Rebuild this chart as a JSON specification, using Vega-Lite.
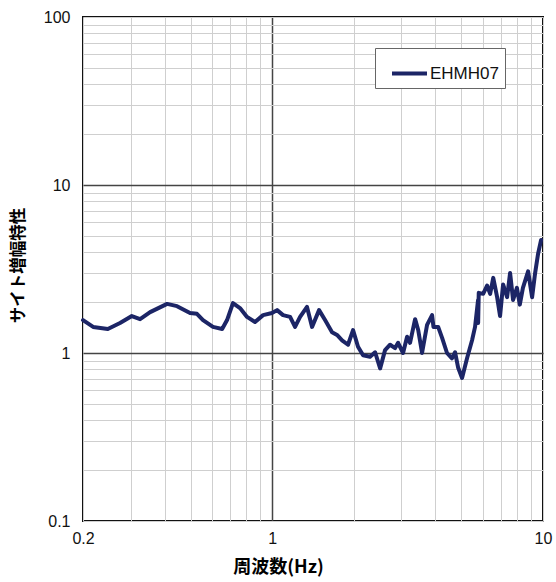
{
  "$schema": "https://vega.github.io/schema/vega-lite/v6.json",
  "autosize": "none",
  "width": 460,
  "height": 504,
  "padding": {"left": 83, "top": 17, "right": 13, "bottom": 61},
  "background": "white",
  "config": {
    "view": {"stroke": "#111", "strokeWidth": 2},
    "font": "Liberation Sans"
  },
  "data": {
    "values": [
      {"f": 0.200, "v": 1.57, "s": "EHMH07"},
      {"f": 0.218, "v": 1.43, "s": "EHMH07"},
      {"f": 0.247, "v": 1.39, "s": "EHMH07"},
      {"f": 0.274, "v": 1.51, "s": "EHMH07"},
      {"f": 0.303, "v": 1.66, "s": "EHMH07"},
      {"f": 0.325, "v": 1.59, "s": "EHMH07"},
      {"f": 0.354, "v": 1.75, "s": "EHMH07"},
      {"f": 0.409, "v": 1.96, "s": "EHMH07"},
      {"f": 0.445, "v": 1.90, "s": "EHMH07"},
      {"f": 0.497, "v": 1.73, "s": "EHMH07"},
      {"f": 0.527, "v": 1.71, "s": "EHMH07"},
      {"f": 0.555, "v": 1.57, "s": "EHMH07"},
      {"f": 0.604, "v": 1.43, "s": "EHMH07"},
      {"f": 0.653, "v": 1.39, "s": "EHMH07"},
      {"f": 0.681, "v": 1.57, "s": "EHMH07"},
      {"f": 0.716, "v": 1.98, "s": "EHMH07"},
      {"f": 0.760, "v": 1.85, "s": "EHMH07"},
      {"f": 0.807, "v": 1.64, "s": "EHMH07"},
      {"f": 0.864, "v": 1.53, "s": "EHMH07"},
      {"f": 0.925, "v": 1.68, "s": "EHMH07"},
      {"f": 0.998, "v": 1.73, "s": "EHMH07"},
      {"f": 1.042, "v": 1.80, "s": "EHMH07"},
      {"f": 1.096, "v": 1.68, "s": "EHMH07"},
      {"f": 1.164, "v": 1.64, "s": "EHMH07"},
      {"f": 1.214, "v": 1.43, "s": "EHMH07"},
      {"f": 1.267, "v": 1.64, "s": "EHMH07"},
      {"f": 1.344, "v": 1.88, "s": "EHMH07"},
      {"f": 1.403, "v": 1.43, "s": "EHMH07"},
      {"f": 1.489, "v": 1.80, "s": "EHMH07"},
      {"f": 1.567, "v": 1.57, "s": "EHMH07"},
      {"f": 1.663, "v": 1.33, "s": "EHMH07"},
      {"f": 1.735, "v": 1.28, "s": "EHMH07"},
      {"f": 1.811, "v": 1.19, "s": "EHMH07"},
      {"f": 1.905, "v": 1.12, "s": "EHMH07"},
      {"f": 1.988, "v": 1.37, "s": "EHMH07"},
      {"f": 2.074, "v": 1.09, "s": "EHMH07"},
      {"f": 2.165, "v": 0.97, "s": "EHMH07"},
      {"f": 2.297, "v": 0.95, "s": "EHMH07"},
      {"f": 2.398, "v": 1.01, "s": "EHMH07"},
      {"f": 2.503, "v": 0.81, "s": "EHMH07"},
      {"f": 2.610, "v": 1.04, "s": "EHMH07"},
      {"f": 2.724, "v": 1.12, "s": "EHMH07"},
      {"f": 2.842, "v": 1.07, "s": "EHMH07"},
      {"f": 2.916, "v": 1.15, "s": "EHMH07"},
      {"f": 3.042, "v": 1.00, "s": "EHMH07"},
      {"f": 3.148, "v": 1.25, "s": "EHMH07"},
      {"f": 3.228, "v": 1.15, "s": "EHMH07"},
      {"f": 3.370, "v": 1.59, "s": "EHMH07"},
      {"f": 3.460, "v": 1.37, "s": "EHMH07"},
      {"f": 3.575, "v": 1.00, "s": "EHMH07"},
      {"f": 3.731, "v": 1.47, "s": "EHMH07"},
      {"f": 3.894, "v": 1.68, "s": "EHMH07"},
      {"f": 3.940, "v": 1.43, "s": "EHMH07"},
      {"f": 4.100, "v": 1.43, "s": "EHMH07"},
      {"f": 4.240, "v": 1.23, "s": "EHMH07"},
      {"f": 4.420, "v": 1.00, "s": "EHMH07"},
      {"f": 4.610, "v": 0.93, "s": "EHMH07"},
      {"f": 4.735, "v": 1.01, "s": "EHMH07"},
      {"f": 4.857, "v": 0.82, "s": "EHMH07"},
      {"f": 5.024, "v": 0.71, "s": "EHMH07"},
      {"f": 5.242, "v": 0.93, "s": "EHMH07"},
      {"f": 5.470, "v": 1.19, "s": "EHMH07"},
      {"f": 5.611, "v": 1.43, "s": "EHMH07"},
      {"f": 5.757, "v": 2.07, "s": "EHMH07"},
      {"f": 5.760, "v": 1.51, "s": "EHMH07"},
      {"f": 5.790, "v": 2.28, "s": "EHMH07"},
      {"f": 6.010, "v": 2.25, "s": "EHMH07"},
      {"f": 6.216, "v": 2.52, "s": "EHMH07"},
      {"f": 6.380, "v": 2.25, "s": "EHMH07"},
      {"f": 6.550, "v": 2.80, "s": "EHMH07"},
      {"f": 6.770, "v": 2.15, "s": "EHMH07"},
      {"f": 6.941, "v": 1.66, "s": "EHMH07"},
      {"f": 7.122, "v": 2.56, "s": "EHMH07"},
      {"f": 7.369, "v": 2.15, "s": "EHMH07"},
      {"f": 7.559, "v": 2.99, "s": "EHMH07"},
      {"f": 7.754, "v": 2.07, "s": "EHMH07"},
      {"f": 8.010, "v": 2.44, "s": "EHMH07"},
      {"f": 8.210, "v": 1.94, "s": "EHMH07"},
      {"f": 8.430, "v": 2.44, "s": "EHMH07"},
      {"f": 8.811, "v": 3.06, "s": "EHMH07"},
      {"f": 9.115, "v": 2.15, "s": "EHMH07"},
      {"f": 9.351, "v": 2.99, "s": "EHMH07"},
      {"f": 9.591, "v": 3.90, "s": "EHMH07"},
      {"f": 9.840, "v": 4.71, "s": "EHMH07"}
    ]
  },
  "mark": {"type": "line", "strokeWidth": 4, "strokeJoin": "round", "strokeCap": "round"},
  "encoding": {
    "x": {
      "field": "f", "type": "quantitative",
      "scale": {"type": "log", "domain": [0.2, 10], "nice": false},
      "axis": {
        "title": "周波数(Hz)",
        "titleFont": "Noto Sans CJK JP", "titleFontWeight": "bold", "titleFontSize": 18,
        "titleX": 195, "titleY": 46, "titleAlign": "center", "titleBaseline": "middle",
        "values": [0.2, 0.3, 0.4, 0.5, 0.6, 0.7, 0.8, 0.9, 1, 2, 3, 4, 5, 6, 7, 8, 9, 10],
        "labelExpr": "indexof([0.2, 1, 10], datum.value) >= 0 ? format(datum.value, '~g') : ''",
        "labelFontSize": 16, "labelColor": "#111", "labelPadding": 9, "labelFlush": false, "labelOverlap": false,
        "ticks": false, "domain": false,
        "gridColor": {"condition": {"test": "indexof([1], datum.value) >= 0", "value": "#444"}, "value": "#cfcfcf"},
        "gridWidth": {"condition": {"test": "indexof([1], datum.value) >= 0", "value": 1.5}, "value": 1}
      }
    },
    "y": {
      "field": "v", "type": "quantitative",
      "scale": {"type": "log", "domain": [0.1, 100], "nice": false},
      "axis": {
        "title": "サイト増幅特性",
        "titleFont": "Noto Sans CJK JP", "titleFontWeight": "bold", "titleFontSize": 16.5,
        "titleX": -65, "titleY": 248, "titleAngle": -90, "titleAlign": "center", "titleBaseline": "middle",
        "values": [0.1, 0.2, 0.3, 0.4, 0.5, 0.6, 0.7, 0.8, 0.9, 1, 2, 3, 4, 5, 6, 7, 8, 9, 10, 20, 30, 40, 50, 60, 70, 80, 90, 100],
        "labelExpr": "indexof([0.1, 1, 10, 100], datum.value) >= 0 ? format(datum.value, '~g') : ''",
        "labelFontSize": 16, "labelColor": "#111", "labelPadding": 13, "labelFlush": false, "labelOverlap": false,
        "ticks": false, "domain": false,
        "gridColor": {"condition": {"test": "indexof([1, 10], datum.value) >= 0", "value": "#444"}, "value": "#cfcfcf"},
        "gridWidth": {"condition": {"test": "indexof([1, 10], datum.value) >= 0", "value": 1.5}, "value": 1}
      }
    },
    "color": {
      "field": "s", "type": "nominal",
      "scale": {"range": ["#1c2566"]},
      "legend": {
        "title": null, "orient": "none", "legendX": 292, "legendY": 31,
        "strokeColor": "#666", "fillColor": "white", "padding": 6,
        "symbolType": "stroke", "symbolSize": 1225, "symbolStrokeWidth": 4, "symbolOffset": 9,
        "labelFontSize": 17, "labelColor": "#111", "labelOffset": 1
      }
    }
  }
}
